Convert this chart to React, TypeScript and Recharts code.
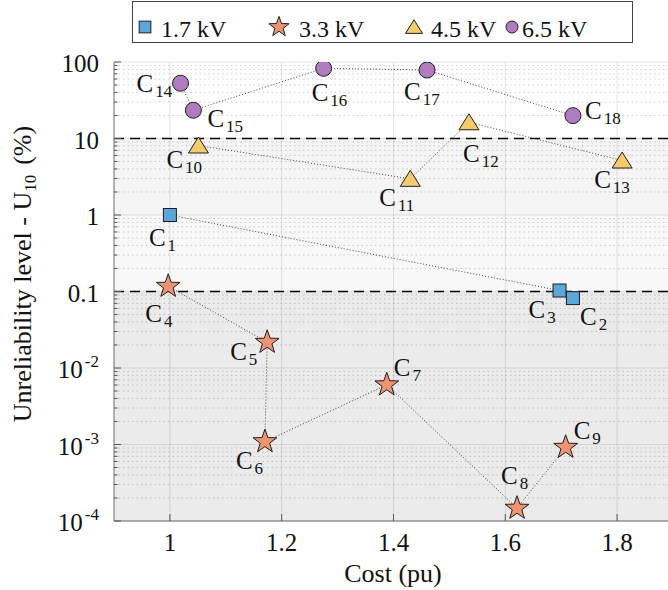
import React from 'react';
import { ScatterChart, Scatter, XAxis, YAxis, ReferenceArea, ReferenceLine } from 'recharts';

const FONT = '"Liberation Serif"';

const SERIES_NAMES = ['1.7 kV', '3.3 kV', '4.5 kV', '6.5 kV'];

// 1.7 kV (drawn in order C1 -> C3 -> C2)
const KV17_IDS = ['1', '3', '2'];
const KV17_COST = [1.0, 1.697, 1.721];
const KV17_U = [1.0, 0.103, 0.082];

// 3.3 kV
const KV33_IDS = ['4', '5', '6', '7', '8', '9'];
const KV33_COST = [0.997, 1.174, 1.17, 1.388, 1.621, 1.708];
const KV33_U = [0.117, 0.0217, 0.00109, 0.00603, 0.000147, 0.00092];

// 4.5 kV
const KV45_IDS = ['10', '11', '12', '13'];
const KV45_COST = [1.051, 1.43, 1.535, 1.809];
const KV45_U = [8.1, 2.97, 16.3, 5.15];

// 6.5 kV
const KV65_IDS = ['14', '15', '16', '17', '18'];
const KV65_COST = [1.019, 1.042, 1.275, 1.46, 1.721];
const KV65_U = [52.7, 23.4, 82.7, 78.6, 19.9];

const X_TICKS = [1, 1.2, 1.4, 1.6, 1.8];
const X_TICK_LABELS = ['1', '1.2', '1.4', '1.6', '1.8'];
const Y_MAJOR = [0.0001, 0.001, 0.01, 0.1, 1, 10, 100];
const Y_TICK_BASE = ['10', '10', '10', '0.1', '1', '10', '100'];
const Y_TICK_SUP = ['-4', '-3', '-2', '', '', '', ''];
const THRESHOLDS = [10, 0.1];

// minor log ticks 2..9 for each decade
const Y_MINOR: number[] = [];
Y_MAJOR.slice(0, -1).forEach((d) => {
  for (let k = 2; k <= 9; k++) Y_MINOR.push(k * d);
});

// label placement relative to marker centre
const LABEL_OFFSETS: Record<string, [number, number]> = {
  '1': [-21, 31], '2': [7, 27], '3': [-31, 27], '4': [-23, 36], '5': [-37, 18],
  '6': [-29, 27], '7': [7, -9], '8': [-16, -24], '9': [8, -8], '10': [-32, 22],
  '11': [-31, 27], '12': [-6, 40], '13': [-28, 27], '14': [-44, 9], '15': [14, 17],
  '16': [-12, 33], '17': [-23, 30], '18': [12, 3],
};

const COLORS = ['#5ba7d9', '#ee9472', '#f6cb6c', '#ae7cbf'];
const EDGE = '#1f1f1f';
const TXT = { fontFamily: FONT };

const build = (ids: string[], cost: number[], u: number[]) =>
  ids.map((id, i) => ({ id, x: cost[i], y: u[i] }));

const starPath = (cx: number, cy: number, r: number) => {
  const ri = r * 0.4;
  let d = '';
  for (let i = 0; i < 10; i++) {
    const rad = i % 2 === 0 ? r : ri;
    const a = -Math.PI / 2 + (i * Math.PI) / 5;
    d += `${i === 0 ? 'M' : 'L'}${cx + rad * Math.cos(a)},${cy + rad * Math.sin(a)}`;
  }
  return d + 'Z';
};

const Marker = ({ kind, cx, cy, s = 1 }: { kind: number; cx: number; cy: number; s?: number }) => {
  const fill = COLORS[kind];
  if (kind === 0) return <rect x={cx - 6.5 * s} y={cy - 6.5 * s} width={13 * s} height={13 * s} fill={fill} stroke={EDGE} strokeWidth={1} />;
  if (kind === 1) return <path d={starPath(cx, cy, 12.5 * s)} fill={fill} stroke={EDGE} strokeWidth={1} />;
  if (kind === 2)
    return (
      <path
        d={`M${cx},${cy - 8.5 * s}L${cx + 10 * s},${cy + 7.5 * s}L${cx - 10 * s},${cy + 7.5 * s}Z`}
        fill={fill}
        stroke={EDGE}
        strokeWidth={1}
      />
    );
  return <circle cx={cx} cy={cy} r={8 * s} fill={fill} stroke={EDGE} strokeWidth={1} />;
};

const makeShape = (kind: number) => (props: any) => {
  const { cx, cy, payload } = props;
  const [dx, dy] = LABEL_OFFSETS[payload.id] || [8, 0];
  return (
    <g>
      <Marker kind={kind} cx={cx} cy={cy} />
      <text x={cx + dx} y={cy + dy} fontSize={25} style={TXT} fill="#111">
        C<tspan fontSize={17} dx={2} dy={5}>{payload.id}</tspan>
      </text>
    </g>
  );
};

const isMajor = (v: number) => Math.abs(Math.log10(v) - Math.round(Math.log10(v))) < 1e-6;

const YTick = (props: any) => {
  const { x, y, payload } = props;
  const v = payload.value;
  if (!isMajor(v)) return <line x1={x} x2={x + 3.5} y1={y} y2={y} stroke="#555" />;
  const i = Y_MAJOR.findIndex((m) => Math.abs(Math.log10(m) - Math.log10(v)) < 1e-6);
  return (
    <g>
      <line x1={x} x2={x + 7} y1={y} y2={y} stroke="#555" />
      <text x={x - 15} y={y + 10} textAnchor="end" fontSize={25} style={TXT} fill="#111">
        {Y_TICK_BASE[i]}
        {Y_TICK_SUP[i] && (
          <tspan fontSize={17} dx={2} dy={-11}>{Y_TICK_SUP[i]}</tspan>
        )}
      </text>
    </g>
  );
};

const XTick = (props: any) => {
  const { x, y, payload } = props;
  const i = X_TICKS.indexOf(payload.value);
  return (
    <g>
      <line x1={x} x2={x} y1={y} y2={y - 7} stroke="#555" />
      <text x={x} y={y + 30} textAnchor="middle" fontSize={25} style={TXT} fill="#111">
        {X_TICK_LABELS[i]}
      </text>
    </g>
  );
};

const XTopTick = (props: any) => {
  const { x, y } = props;
  return <line x1={x} x2={x} y1={y} y2={y + 7} stroke="#555" />;
};

const Legend = () => {
  const sym = [145, 279, 414, 512];
  const txt = [161, 299, 431, 522];
  return (
    <svg width={668} height={50} style={{ position: 'absolute', left: 0, top: 0 }}>
      <rect x={132.5} y={1.5} width={500} height={41} fill="#fff" stroke="#444" strokeWidth={1} />
      {SERIES_NAMES.map((n, i) => (
        <g key={n}>
          <Marker kind={i} cx={sym[i]} cy={27} s={i === 3 ? 0.75 : i === 0 ? 0.9 : 0.85} />
          <text x={txt[i]} y={37} fontSize={24} style={TXT} fill="#111">{n}</text>
        </g>
      ))}
    </svg>
  );
};

const Titles = () => (
  <svg width={668} height={590} style={{ position: 'absolute', left: 0, top: 0, pointerEvents: 'none' }}>
    <text x={393} y={582} textAnchor="middle" fontSize={26} style={TXT} fill="#111">Cost (pu)</text>
    <text transform="translate(31,274) rotate(-90)" textAnchor="middle" fontSize={26} style={TXT} fill="#111">
      Unreliability level - U<tspan fontSize={17} dy={5}>10</tspan><tspan dx={10} dy={-5}>(%)</tspan>
    </text>
  </svg>
);

export default function App() {
  const s17 = build(KV17_IDS, KV17_COST, KV17_U);
  const s33 = build(KV33_IDS, KV33_COST, KV33_U);
  const s45 = build(KV45_IDS, KV45_COST, KV45_U);
  const s65 = build(KV65_IDS, KV65_COST, KV65_U);
  const lineStyle = { stroke: '#444', strokeWidth: 1, strokeDasharray: '1 2' };

  return (
    <div style={{ position: 'absolute', left: 0, top: 0, width: 668, height: 590, overflow: 'hidden', background: '#fff', fontFamily: FONT }}>
      <ScatterChart width={673} height={590} margin={{ top: 62, right: 0, bottom: 0, left: 14 }}>
        <ReferenceArea y1={1} y2={10} fill="#f5f5f5" fillOpacity={1} strokeWidth={0} ifOverflow="hidden" />
        <ReferenceArea y1={0.1} y2={1} fill="#f8f8f8" fillOpacity={1} strokeWidth={0} ifOverflow="hidden" />
        <ReferenceArea y1={0.0001} y2={0.1} fill="#ebebeb" fillOpacity={1} strokeWidth={0} ifOverflow="hidden" />
        {Y_MINOR.map((v) => (
          <ReferenceLine key={`m${v}`} y={v} stroke="#262626" strokeOpacity={0.22} strokeDasharray="1.5 3" />
        ))}
        {Y_MAJOR.map((v) => (
          <ReferenceLine key={`M${v}`} y={v} stroke="#262626" strokeOpacity={0.12} />
        ))}
        {X_TICKS.map((v) => (
          <ReferenceLine key={`x${v}`} x={v} stroke="#262626" strokeOpacity={0.12} />
        ))}
        {THRESHOLDS.map((v) => (
          <ReferenceLine key={`t${v}`} y={v} stroke="#000" strokeWidth={1.6} strokeDasharray="10 6" />
        ))}
        <XAxis
          type="number"
          dataKey="x"
          domain={[0.9, 1.9]}
          ticks={X_TICKS}
          interval={0}
          height={69}
          tickSize={0}
          tickMargin={0}
          tickLine={false}
          axisLine={{ stroke: '#6e6e6e' }}
          tick={<XTick />}
          allowDataOverflow
        />
        <XAxis
          xAxisId="top"
          orientation="top"
          type="number"
          dataKey="x"
          domain={[0.9, 1.9]}
          ticks={X_TICKS}
          interval={0}
          height={0}
          tickSize={0}
          tickMargin={0}
          tickLine={false}
          axisLine={{ stroke: '#6e6e6e' }}
          tick={<XTopTick />}
          allowDataOverflow
        />
        <YAxis
          type="number"
          dataKey="y"
          scale="log"
          domain={[0.0001, 100]}
          ticks={[...Y_MAJOR, ...Y_MINOR].sort((a, b) => a - b)}
          interval={0}
          width={100}
          tickSize={0}
          tickMargin={0}
          tickLine={false}
          axisLine={{ stroke: '#6e6e6e' }}
          tick={<YTick />}
          allowDataOverflow
        />
        <Scatter data={s17} line={lineStyle} shape={makeShape(0)} isAnimationActive={false} />
        <Scatter data={s33} line={lineStyle} shape={makeShape(1)} isAnimationActive={false} />
        <Scatter data={s45} line={lineStyle} shape={makeShape(2)} isAnimationActive={false} />
        <Scatter data={s65} line={lineStyle} shape={makeShape(3)} isAnimationActive={false} />
      </ScatterChart>
      <Legend />
      <Titles />
    </div>
  );
}
